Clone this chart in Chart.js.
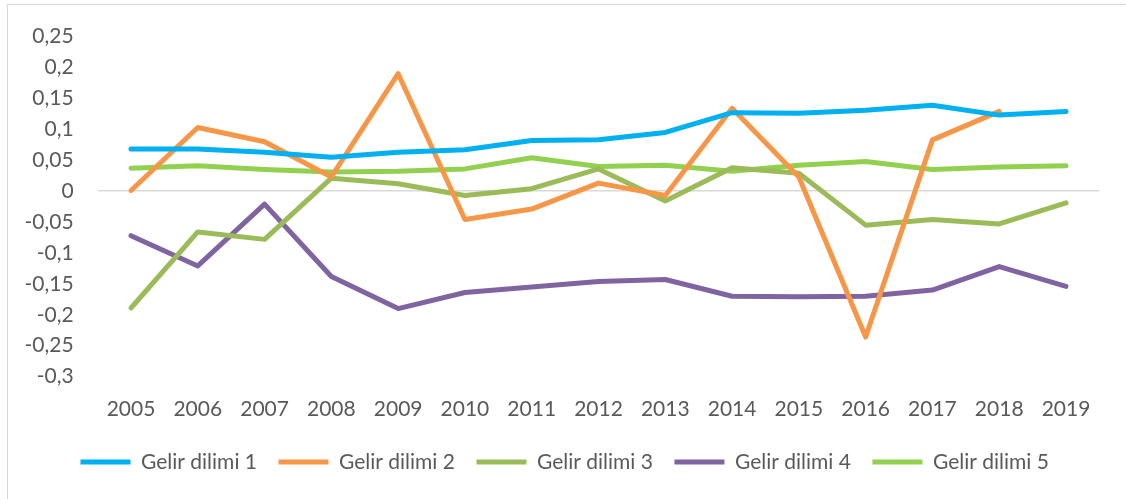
<!DOCTYPE html>
<html>
<head>
<meta charset="utf-8">
<script src="https://cdn.jsdelivr.net/npm/chart.js@4.4.1/dist/chart.umd.min.js"></script>
<style>
  html, body { margin: 0; padding: 0; background: #fff; }
  #wrap { position: relative; width: 1126px; height: 499px; overflow: hidden; }
  #frame { position: absolute; left: 7px; top: 4px; width: 1200px; height: 600px; border: 1.5px solid #d9d9d9; box-sizing: border-box; }
  #chartContainer { position: absolute; left: 0; top: 0; }
</style>
</head>
<body>
<div id="wrap">
  <div id="frame"></div>
  <canvas id="chartContainer" width="1126" height="499"></canvas>
</div>
<script>
const years = ['2005', '2006', '2007', '2008', '2009', '2010', '2011', '2012', '2013', '2014', '2015', '2016', '2017', '2018', '2019'];
const dilim1 = [0.068, 0.068, 0.063, 0.055, 0.063, 0.067, 0.082, 0.083, 0.095, 0.127, 0.126, 0.131, 0.139, 0.123, 0.129];
const dilim2 = [0.001, 0.103, 0.080, 0.023, 0.190, -0.046, -0.029, 0.013, -0.007, 0.134, 0.023, -0.236, 0.083, 0.129, null];
const dilim3 = [-0.189, -0.066, -0.078, 0.021, 0.012, -0.007, 0.004, 0.036, -0.016, 0.038, 0.029, -0.055, -0.046, -0.053, -0.019];
const dilim4 = [-0.072, -0.121, -0.021, -0.138, -0.190, -0.164, -0.155, -0.146, -0.143, -0.170, -0.171, -0.170, -0.160, -0.122, -0.154];
const dilim5 = [0.037, 0.041, 0.035, 0.031, 0.032, 0.036, 0.054, 0.040, 0.042, 0.032, 0.042, 0.048, 0.035, 0.039, 0.041];
const seriesNames = ['Gelir dilimi 1', 'Gelir dilimi 2', 'Gelir dilimi 3', 'Gelir dilimi 4', 'Gelir dilimi 5'];
const colors = ['#00B0F0', '#F79646', '#9BBB59', '#8064A2', '#92D050'];

Chart.defaults.font.family = 'Lato, sans-serif';
Chart.defaults.color = '#595959';

function makeSet(i, values) {
    return {
        label: seriesNames[i],
        data: values,
        borderColor: colors[i],
        backgroundColor: colors[i],
        borderWidth: 5,
        borderCapStyle: 'round',
        borderJoinStyle: 'round',
        pointRadius: 0,
        pointHoverRadius: 0,
        tension: 0,
        fill: false
    };
}

// legend sits a little right of centre in the original
const legendShift = {
    id: 'legendShift',
    afterLayout(chart) {
        const lg = chart.legend;
        lg.left += 15;
        lg.right += 15;
    }
};

const ctx = document.getElementById('chartContainer').getContext('2d');
const chart = new Chart(ctx, {
    type: 'line',
    data: {
        labels: years,
        datasets: [
            makeSet(0, dilim1),
            makeSet(1, dilim2),
            makeSet(2, dilim3),
            makeSet(3, dilim4),
            makeSet(4, dilim5)
        ]
    },
    options: {
        responsive: false,
        animation: false,
        layout: { padding: { left: 0, right: 26.6, top: 34.7, bottom: 16.5 } },
        scales: {
            x: {
                offset: true,
                grid: { display: false, drawTicks: false },
                border: { display: false },
                ticks: { font: { size: 21 }, padding: 20, maxRotation: 0 },
                afterFit: (scale) => { scale.height = 53.4; }
            },
            y: {
                min: -0.3,
                max: 0.25,
                grid: {
                    drawTicks: false,
                    lineWidth: 1.5,
                    color: (c) => (c.tick && Math.abs(c.tick.value) < 1e-9) ? '#D9D9D9' : 'rgba(0,0,0,0)'
                },
                border: { display: false },
                ticks: {
                    stepSize: 0.05,
                    padding: 24,
                    font: { size: 21 },
                    callback: (v) => String(Math.round(v * 100) / 100).replace('.', ',')
                },
                afterFit: (scale) => { scale.width = 97.6; }
            }
        },
        plugins: {
            tooltip: { enabled: false },
            legend: {
                display: true,
                position: 'bottom',
                labels: {
                    usePointStyle: true,
                    pointStyle: 'line',
                    pointStyleWidth: 50,
                    padding: 21.5,
                    font: { size: 21 },
                    color: '#595959'
                }
            }
        }
    },
    plugins: [legendShift]
});
</script>
</body>
</html>
